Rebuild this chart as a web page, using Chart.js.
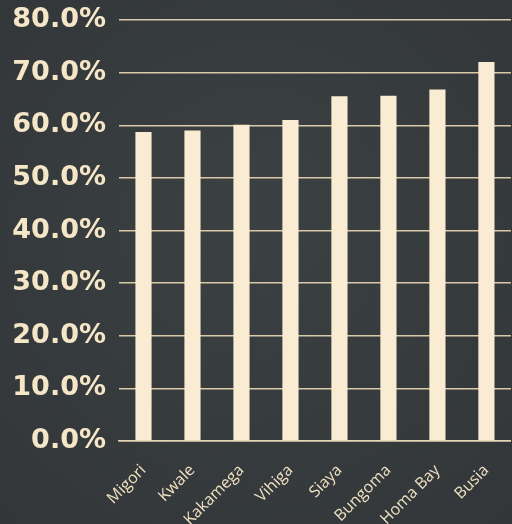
<!DOCTYPE html>
<html>
<head>
<meta charset="utf-8">
<script src="https://cdn.jsdelivr.net/npm/chart.js@4.4.0/dist/chart.umd.min.js"></script>
<style>
  html, body { margin: 0; padding: 0; background: #35393b; }
  #wrap { width: 512px; height: 524px; }
</style>
</head>
<body>
<div id="wrap"><canvas id="myChart" width="512" height="524"></canvas></div>
<script>
// County shares
const counties = ['Migori', 'Kwale', 'Kakamega', 'Vihiga', 'Siaya', 'Bungoma', 'Homa Bay', 'Busia'];
const shares = [58.7, 59.0, 60.1, 61.0, 65.5, 65.6, 66.8, 72.0];
const yTicks = [0, 10, 20, 30, 40, 50, 60, 70, 80];

const cream = '#f9ecd3';

// paint the dark board behind everything
const boardBg = {
  id: 'boardBg',
  beforeDraw(chart) {
    const { ctx, width, height } = chart;
    ctx.save();
    const g = ctx.createRadialGradient(width * 0.5, height * 0.4, 50, width * 0.5, height * 0.5, 420);
    g.addColorStop(0, '#3a3f41');
    g.addColorStop(1, '#313537');
    ctx.fillStyle = g;
    ctx.fillRect(0, 0, width, height);
    ctx.restore();
  }
};

new Chart(document.getElementById('myChart').getContext('2d'), {
  type: 'bar',
  data: {
    labels: counties,
    datasets: [{
      data: shares,
      backgroundColor: cream,
      borderWidth: 0,
      categoryPercentage: 1,
      barPercentage: 0.33
    }]
  },
  options: {
    responsive: false,
    animation: false,
    layout: { padding: { top: 20, right: 0, left: 0, bottom: 0 } },
    plugins: { legend: { display: false }, tooltip: { enabled: false } },
    scales: {
      x: {
        grid: { display: false },
        border: { display: true, color: '#e6d6b6', width: 1.5 },
        ticks: {
          color: '#efe0c2',
          font: { family: 'Open Sans', size: 16 },
          minRotation: 45,
          maxRotation: 45,
          padding: 12
        },
        afterFit(scale) { scale.height = 83; }
      },
      y: {
        min: 0,
        max: 80,
        afterBuildTicks(scale) { scale.ticks = yTicks.map(v => ({ value: v })); },
        grid: { color: '#d9c9a8', lineWidth: 1.5, drawTicks: false },
        border: { display: false },
        ticks: {
          color: '#f5e6c8',
          font: { family: 'DejaVu Sans', size: 27, weight: 'bold' },
          padding: 13,
          callback: v => v.toFixed(1) + '%'
        },
        afterFit(scale) {
          scale.width = 119;
          scale.paddingTop = 0;
          scale.paddingBottom = 0;
        }
      }
    }
  },
  plugins: [boardBg]
});
</script>
</body>
</html>
